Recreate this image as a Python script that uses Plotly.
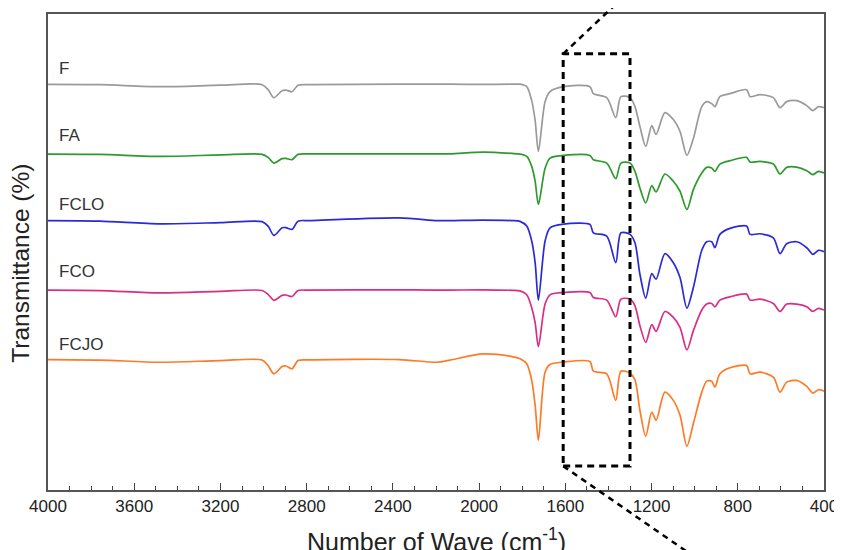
import plotly.graph_objects as go

# Wavenumber grid (cm^-1)
wavenumber = [4000, 3760, 3480, 3200, 3007, 2979, 2952, 2914, 2896, 2868, 2840, 2785, 2370, 2195, 2135, 1982, 1848,
              1810, 1779, 1756, 1740, 1725, 1694, 1671, 1609, 1486, 1470, 1408, 1366, 1342, 1300, 1277,
              1254, 1227, 1199, 1179, 1138, 1099, 1068, 1036, 1006, 967, 944, 921, 906, 883, 836,
              759, 743, 697, 635, 604, 573, 527, 480, 452, 426, 400]

# Transmittance (a.u., stacked)
F = [407.3, 407, 405, 406.5, 407, 402, 394, 401, 401.5, 400, 406.5, 407, 407.5, 407.5, 407.5, 407.3, 407.5,
     407.5, 405, 391, 371, 340, 390, 400, 405, 405, 398, 394, 374, 395, 394, 385,
     365, 345, 366, 357, 379, 372, 360, 336, 353, 385, 390, 388, 385, 395, 398,
     402, 395, 397, 394, 384, 390, 391, 386, 381, 385, 384]
FA = [337.3, 337, 335, 336.5, 337, 334, 328.3, 332.7, 333, 331.7, 337, 337.5, 337.5, 337.5, 337.5, 339.3, 338,
      337.3, 335, 325, 310, 286.7, 323, 333.3, 336, 336, 331.7, 328.3, 312.7, 328.3, 328.3, 320,
      303.3, 288.3, 305.7, 299.3, 317.3, 310, 300, 281.7, 301.7, 318.3, 324, 323.3, 320, 327.3, 330.7,
      334, 329.3, 330, 327.3, 317.3, 324, 324.3, 320.7, 316.7, 320, 318.3]
FCLO = [270.5, 270, 267.3, 268.5, 269.5, 265, 255.7, 263.3, 263.5, 261.7, 270, 270.5, 273.3, 270.5, 270.5, 271, 270.5,
        269.8, 265, 250, 228, 190.7, 250, 263.3, 267, 266.7, 258.3, 255, 228.3, 258.3, 256.7, 248.3,
        216.7, 192.7, 217.3, 211.7, 237.3, 228.3, 213.3, 182.7, 203.3, 240.7, 249.3, 249.3, 243.3, 256.7, 262.7,
        265, 256.7, 257.3, 253.3, 237.3, 247.3, 249.3, 243.3, 236.7, 240.7, 239.3]
FCO = [200.7, 200.3, 198, 199.5, 200.3, 196.5, 190.5, 195.5, 195.8, 194.3, 200.3, 200.7, 201, 200.7, 200.7, 201, 200.5,
       200, 196, 183, 168, 144, 186.7, 196, 198.3, 198.3, 193.3, 190.7, 174, 191.7, 191.7, 185,
       165, 148.3, 166, 159.3, 179.3, 173.3, 163.3, 140.7, 160, 180.7, 186.7, 187.3, 184, 190.7, 194,
       196.7, 190.7, 191.7, 187.3, 179.3, 186.7, 186.7, 184, 179.3, 182.3, 180.7]
FCJO = [131, 130.5, 128.3, 130, 130.5, 125, 116.7, 124, 124.5, 121.7, 130, 130.7, 131, 128.3, 130.5, 136.7, 134,
        131.7, 126.7, 110, 85, 50, 118.3, 126, 128.5, 129, 119.3, 116.7, 90, 119.3, 117.3, 110.7,
        80, 54, 78.3, 70, 98.3, 90, 75, 44, 66.7, 98.3, 109.3, 109.3, 103.3, 116.7, 122.7,
        125, 116.7, 118.3, 113.3, 98.3, 108.3, 110, 104, 97.3, 100.7, 99.3]

series_names = ["F", "FA", "FCLO", "FCO", "FCJO"]
series_values = [F, FA, FCLO, FCO, FCJO]
series_colors = ["#9a9a9a", "#2e9a2e", "#2a2ad8", "#d92e84", "#ff7a26"]
label_y = [423, 356, 287, 219, 146]

tick_vals = [4000, 3600, 3200, 2800, 2400, 2000, 1600, 1200, 800, 400]
tick_text = [str(v) for v in tick_vals]

# Highlighted region (cm^-1)
box_x = [1610, 1300]
box_y = [24, 438]

fig = go.Figure()
for name, vals, col in zip(series_names, series_values, series_colors):
    fig.add_trace(go.Scatter(x=wavenumber, y=vals, mode="lines", name=name,
                             line=dict(color=col, width=1.7, shape="spline", smoothing=0.8),
                             showlegend=False))

for name, ly in zip(series_names, label_y):
    fig.add_annotation(x=3958, y=ly, xref="x", yref="y", text=name, showarrow=False,
                       xanchor="left", yanchor="middle",
                       font=dict(family="Arial", size=17, color="#333333"))

fig.add_shape(type="rect", xref="x", yref="y", x0=box_x[0], x1=box_x[1], y0=box_y[0], y1=box_y[1],
              line=dict(color="black", width=3, dash="7px,5px"))
fig.add_shape(type="line", xref="paper", yref="paper", x0=0.6639, y0=0.9163, x1=0.7482, y1=1.046,
              line=dict(color="black", width=2.5, dash="6px,5px"))
fig.add_shape(type="line", xref="paper", yref="paper", x0=0.6639, y0=0.0502, x1=0.8383, y1=-0.1464,
              line=dict(color="black", width=2.5, dash="6px,5px"))

fig.add_annotation(x=0.5, y=-0.104, xref="paper", yref="paper",
                   text="Number of Wave (cm<sup>-1</sup>)", showarrow=False,
                   xanchor="center", yanchor="middle",
                   font=dict(family="Arial", size=25, color="#222222"))
fig.add_annotation(x=-0.035, y=0.477, xref="paper", yref="paper",
                   text="Transmittance (%)", showarrow=False, textangle=-90,
                   xanchor="center", yanchor="middle",
                   font=dict(family="Arial", size=24.5, color="#222222"))

fig.update_xaxes(range=[4000, 400], tickvals=tick_vals, ticktext=tick_text,
                 ticks="inside", ticklen=7, tickwidth=1.2, tickcolor="#444444",
                 minor=dict(dtick=100, tick0=0, ticks="inside", ticklen=4, tickcolor="#444444", tickwidth=1),
                 showline=True, linecolor="#555555", linewidth=1.5, mirror=True,
                 showgrid=False, zeroline=False,
                 tickfont=dict(family="Arial", size=17, color="#222222"))
fig.update_yaxes(range=[0, 478], showticklabels=False, ticks="",
                 showline=True, linecolor="#555555", linewidth=1.5, mirror=True,
                 showgrid=False, zeroline=False)

fig.update_layout(width=842, height=550, margin=dict(l=40, r=26, t=4, b=68),
                  paper_bgcolor="white", plot_bgcolor="white")

fig.write_html("out.html")
